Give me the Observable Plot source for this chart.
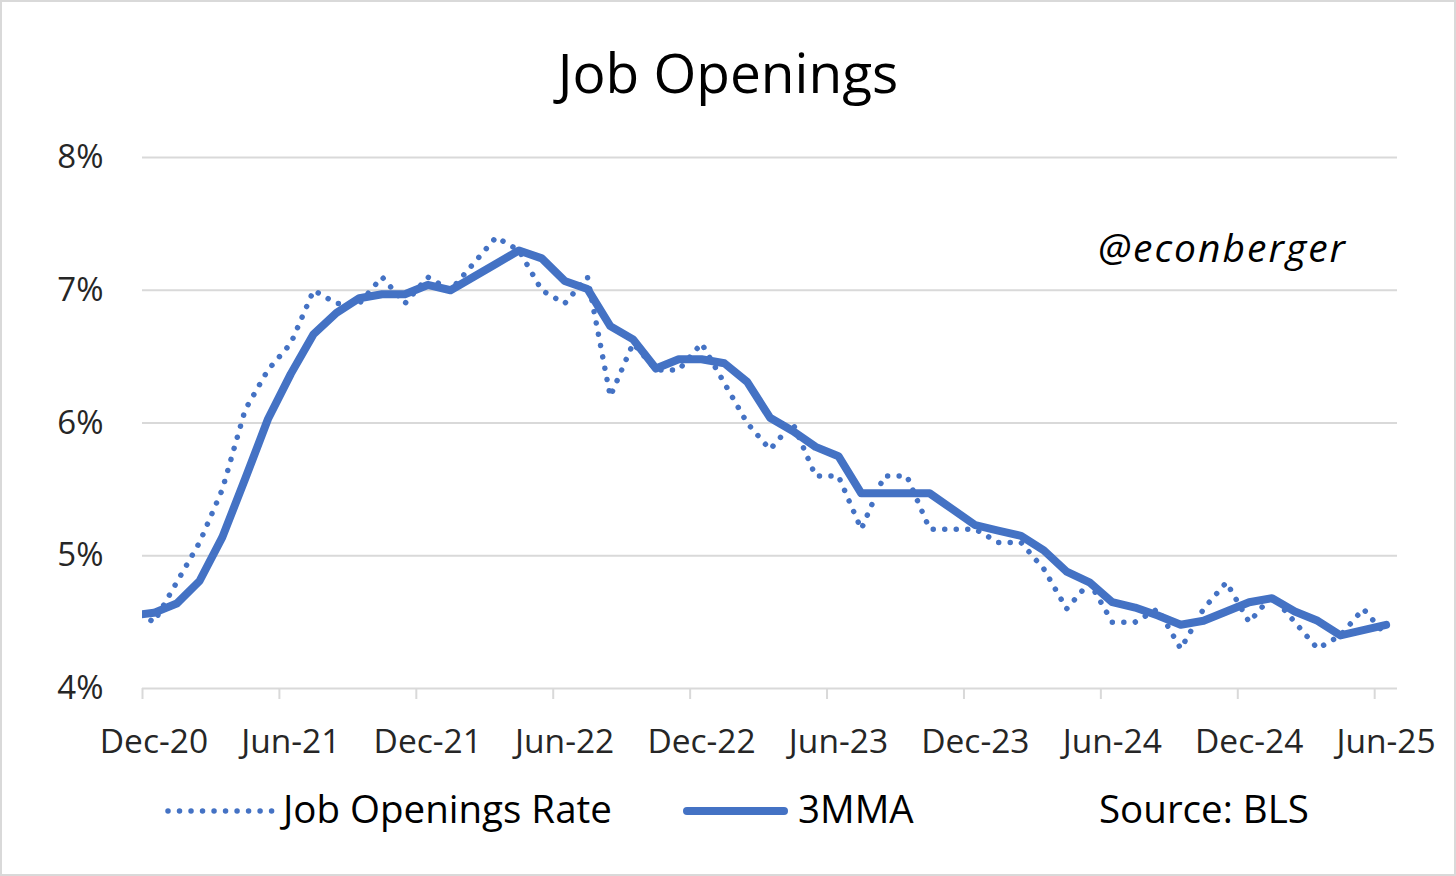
<!DOCTYPE html>
<html>
<head>
<meta charset="utf-8">
<script src="https://cdn.jsdelivr.net/npm/d3@7"></script>
<script src="https://cdn.jsdelivr.net/npm/@observablehq/plot@0.6"></script>
<style>
  html, body { margin: 0; padding: 0; background: #fff; }
  #wrap { position: relative; width: 1456px; height: 876px; overflow: hidden;
          font-family: "Open Sans", sans-serif; box-shadow: inset 0 0 0 2px #d9d9d9; }
  #title { height: 120px; box-sizing: border-box; padding-top: 44px; text-align: center;
           font-size: 55px; line-height: 55px; color: #000; }
  #chart { height: 650px; position: relative; }
  #chart svg { display: block; }
  #watermark { position: absolute; left: 1098px; top: 227px; font-size: 39px; line-height: 39px;
               letter-spacing: 2px; font-style: italic; color: #000; }
  #legend { position: relative; height: 106px; }
  .lg { position: absolute; top: 19px; font-size: 38.5px; line-height: 38.5px; color: #000; white-space: nowrap; }
  .sw { position: absolute; top: 31px; }
</style>
</head>
<body>
<div id="wrap">
  <div id="title">Job Openings</div>
  <div id="chart"></div>
  <div id="watermark">@econberger</div>
  <div id="legend">
    <svg class="sw" style="left:160px" width="120" height="20"><line x1="8" y1="10" x2="112" y2="10" stroke="#4472C4" stroke-width="5.5" stroke-linecap="round" stroke-dasharray="0.01 11.5"/></svg>
    <div class="lg" style="left:283px">Job Openings Rate</div>
    <svg class="sw" style="left:675px" width="120" height="20"><line x1="12" y1="10" x2="109" y2="10" stroke="#4472C4" stroke-width="8" stroke-linecap="round"/></svg>
    <div class="lg" style="left:798px">3MMA</div>
    <div class="lg" style="left:1099px">Source: BLS</div>
  </div>
</div>
<script>
// Months shown (Nov-20 lies just left of the plot edge and is clipped)
const months = ["Nov-20","Dec-20",
  "Jan-21","Feb-21","Mar-21","Apr-21","May-21","Jun-21","Jul-21","Aug-21","Sep-21","Oct-21","Nov-21","Dec-21",
  "Jan-22","Feb-22","Mar-22","Apr-22","May-22","Jun-22","Jul-22","Aug-22","Sep-22","Oct-22","Nov-22","Dec-22",
  "Jan-23","Feb-23","Mar-23","Apr-23","May-23","Jun-23","Jul-23","Aug-23","Sep-23","Oct-23","Nov-23","Dec-23",
  "Jan-24","Feb-24","Mar-24","Apr-24","May-24","Jun-24","Jul-24","Aug-24","Sep-24","Oct-24","Nov-24","Dec-24",
  "Jan-25","Feb-25","Mar-25","Apr-25","May-25","Jun-25"];

// Job Openings Rate (%)
const rate = [4.6, 4.5,
  4.8, 5.1, 5.5, 6.1, 6.4, 6.6, 7.0, 6.9, 6.9, 7.1, 6.9, 7.1,
  7.0, 7.2, 7.4, 7.3, 7.0, 6.9, 7.1, 6.2, 6.6, 6.4, 6.4, 6.6,
  6.3, 6.0, 5.8, 6.0, 5.6, 5.6, 5.2, 5.6, 5.6, 5.2, 5.2, 5.2,
  5.1, 5.1, 4.9, 4.6, 4.8, 4.5, 4.5, 4.6, 4.3, 4.6, 4.8, 4.5,
  4.7, 4.5, 4.3, 4.4, 4.6, 4.4];

// 3-month moving average (%)
const mma = [4.55, 4.57,
  4.64, 4.81, 5.14, 5.58, 6.03, 6.37, 6.67, 6.83, 6.94, 6.97, 6.97, 7.04,
  7.00, 7.10, 7.20, 7.30, 7.24, 7.07, 7.01, 6.73, 6.63, 6.41, 6.48, 6.48,
  6.45, 6.31, 6.04, 5.94, 5.82, 5.75, 5.47, 5.47, 5.47, 5.47, 5.35, 5.23,
  5.19, 5.15, 5.04, 4.88, 4.80, 4.65, 4.61, 4.55, 4.48, 4.51, 4.58, 4.65,
  4.68, 4.58, 4.51, 4.40, 4.44, 4.48];

const tickLabels = ["Dec-20","Jun-21","Dec-21","Jun-22","Dec-22","Jun-23","Dec-23","Jun-24","Dec-24","Jun-25"];
const yTicks = [4, 5, 6, 7, 8];

// month index: Dec-20 = 0
const data = months.map((m, k) => ({ i: k - 1, month: m, rate: rate[k], mma: mma[k] }));
const labelPos = tickLabels.map(l => months.indexOf(l) - 1);
const boundaryPos = labelPos.map(p => p - 0.5);
const labelOf = new Map(labelPos.map((p, k) => [p, tickLabels[k]]));

const chart = Plot.plot({
  width: 1456,
  height: 650,
  marginLeft: 142,
  marginRight: 59,
  marginTop: 37,
  marginBottom: 82,
  style: { fontFamily: "'Open Sans', sans-serif", background: "transparent", color: "#262626", overflow: "visible" },
  x: { domain: [-0.5, months.length - 1.5], axis: null, label: null },
  y: { domain: [4, 8], axis: null, label: null },
  marks: [
    Plot.ruleY(yTicks, { stroke: "#d9d9d9", strokeWidth: 2 }),
    Plot.axisX({ ticks: boundaryPos, tickSize: 11, tickFormat: () => "", label: null, stroke: "#d9d9d9", strokeWidth: 2 }),
    Plot.axisX({ ticks: labelPos, tickSize: 0, tickPadding: 41, fontSize: 33.5, label: null, tickFormat: d => labelOf.get(d) }),
    Plot.axisY({ ticks: yTicks, tickSize: 0, tickPadding: 39, fontSize: 33, label: null, tickFormat: d => d + "%" }),
    Plot.line(data, { x: "i", y: "rate", stroke: "#4472C4", strokeWidth: 5.5, strokeLinecap: "round",
                      strokeDasharray: "0.01 11.5", clip: true }),
    Plot.line(data, { x: "i", y: "mma", stroke: "#4472C4", strokeWidth: 8, strokeLinecap: "round",
                      strokeLinejoin: "round", clip: true })
  ]
});
document.getElementById("chart").appendChild(chart);
</script>
</body>
</html>
